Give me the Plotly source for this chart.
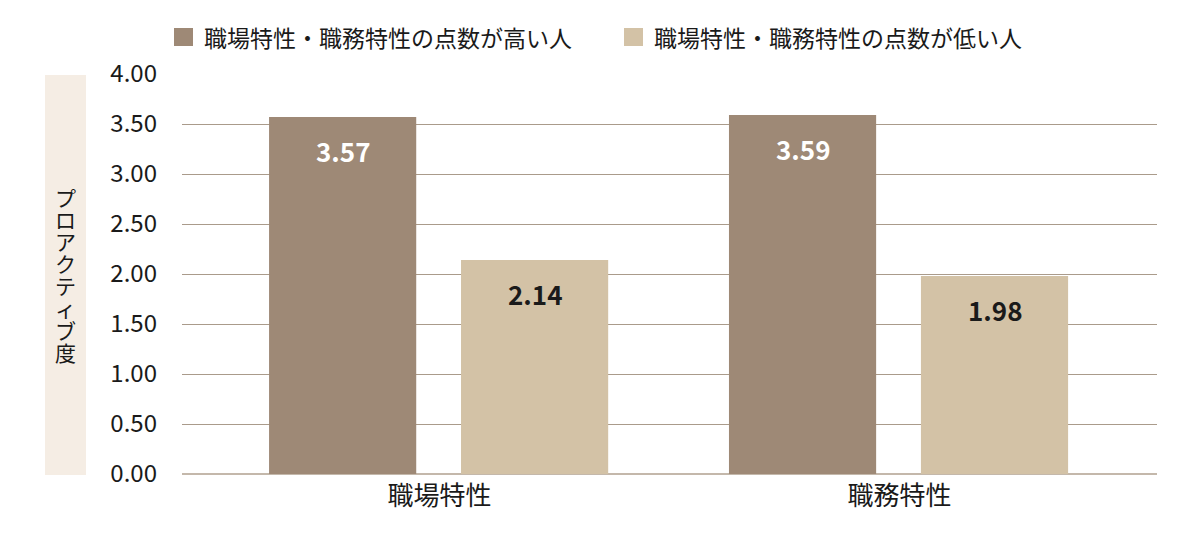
import plotly.graph_objects as go

# categories and series
categories = ['職場特性', '職務特性']
series_names = ['職場特性・職務特性の点数が高い人', '職場特性・職務特性の点数が低い人']
high_values = [3.57, 3.59]
low_values = [2.14, 1.98]
y_ticks = [0, 0.5, 1, 1.5, 2, 2.5, 3, 3.5, 4]
y_title = 'プロアクティブ度'

dark = '#9e8976'
light = '#d3c2a6'
font = 'Noto Sans CJK JP'
txt = '#1a1a1a'

# plot area in px (for placing the paper-referenced decorations)
L, R, T, B = 182, 1157, 74, 474
W, H = R - L, B - T


def px_x(p):
    return (p - L) / W


def px_y(p):
    return (B - p) / H


bar_w = 0.32
offsets = [-0.3707, 0.0467]

fig = go.Figure()
for name, vals, col, off, tcol in [
    (series_names[0], high_values, dark, offsets[0], 'white'),
    (series_names[1], low_values, light, offsets[1], txt),
]:
    fig.add_trace(go.Bar(
        x=categories, y=vals, name=name, marker_color=col,
        width=bar_w, offset=off, marker_line_width=0,
        showlegend=False,
    ))
    # value labels near top of bar
    for i, v in enumerate(vals):
        fig.add_annotation(
            x=i + off + bar_w / 2, y=v, text='<b>%.2f</b>' % v,
            showarrow=False, yanchor='middle', yshift=-33,
            font=dict(size=26, color=tcol, family=font),
        )

# legend drawn by hand (bigger swatches than plotly's)
for name, col, sx in [(series_names[0], dark, 174), (series_names[1], light, 624)]:
    fig.add_shape(type='rect', xref='paper', yref='paper',
                  x0=px_x(sx), x1=px_x(sx + 19), y0=px_y(46), y1=px_y(28),
                  fillcolor=col, line_width=0)
    fig.add_annotation(xref='paper', yref='paper', x=px_x(sx + 28), y=px_y(37),
                       xanchor='left', yanchor='middle', text=name, showarrow=False,
                       font=dict(size=23, color=txt, family=font))

# y title box with the characters stacked vertically
# (small base size keeps the line pitch tight, the span makes glyphs bigger)
fig.add_shape(type='rect', xref='paper', yref='paper',
              x0=px_x(45), x1=px_x(86), y0=px_y(475), y1=px_y(75),
              fillcolor='#f5ede4', line_width=0, layer='below')
stacked = '<br>'.join('<span style="font-size:21px">%s</span>' % ch for ch in y_title)
fig.add_annotation(xref='paper', yref='paper', x=px_x(65.5), y=px_y(274),
                   text=stacked, showarrow=False,
                   xanchor='center', yanchor='middle', align='center',
                   font=dict(size=17, color=txt, family=font))

fig.update_layout(
    width=1200, height=534,
    margin=dict(l=L, r=1200 - R, t=T, b=534 - B),
    plot_bgcolor='white', paper_bgcolor='white',
    font=dict(family=font, color=txt),
    barmode='group',
    showlegend=False,
    xaxis=dict(range=[-0.56, 1.56], showgrid=False, showline=False, ticks='',
               tickfont=dict(size=26, color=txt), ticklabelstandoff=4),
    yaxis=dict(range=[0, 4], tickvals=y_ticks, tickformat='.2f',
               showgrid=True, gridcolor='#aa9b8b', gridwidth=1.2,
               zeroline=True, zerolinecolor='#c4b8ab', zerolinewidth=2,
               tickfont=dict(size=24, color=txt), ticks='', ticklabelstandoff=24),
)

fig.write_html('out.html', config={'displayModeBar': False},
               post_script="document.body.style.margin='0';")
